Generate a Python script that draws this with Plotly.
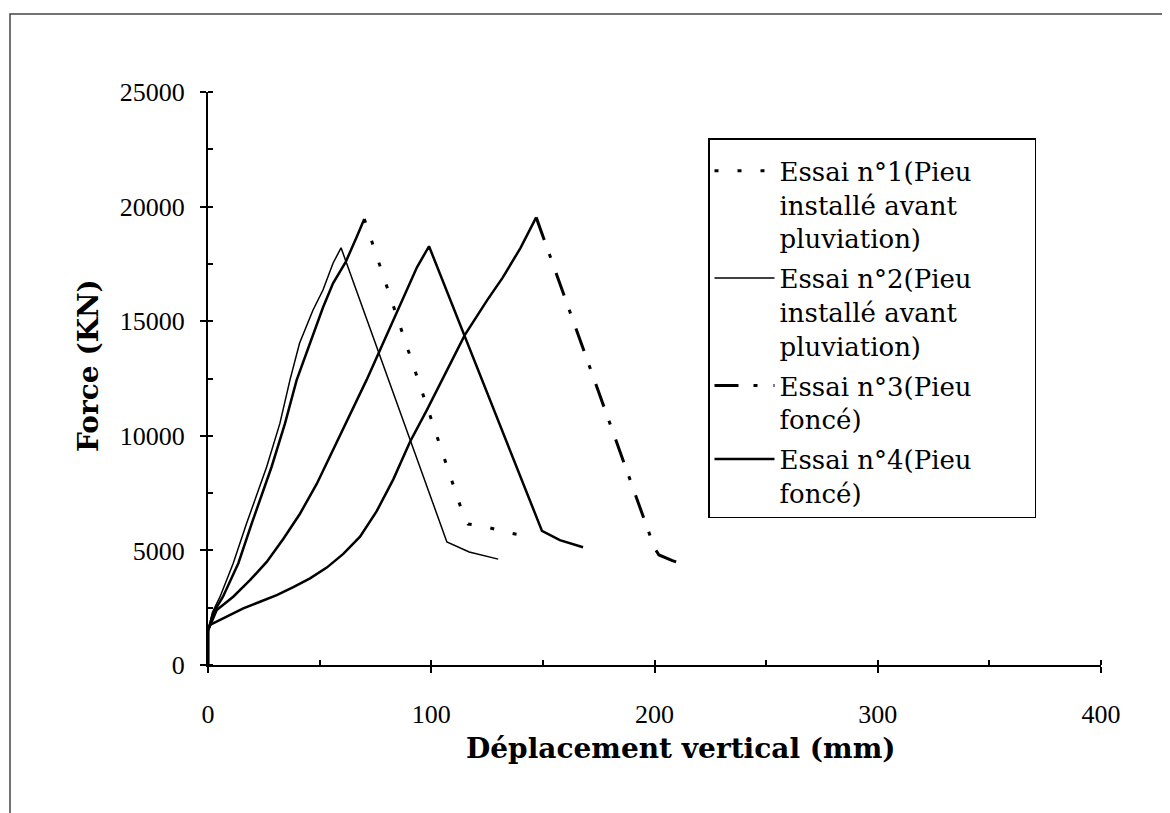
import plotly.graph_objects as go

# ---- data ----
# Essai n°1 : ascending branch then dotted unloading branch
e1_x = [0, 0, 2.5, 6.7, 13.6, 19.6, 28.5, 34.5, 39.7, 45.7, 51.5, 56, 61.7, 66.6, 70,
        114.5, 116.5, 125, 133, 140]
e1_y = [0, 1500, 2300, 2980, 4440, 6180, 8650, 10540, 12430, 14040, 15600, 16650, 17590, 18670, 19460,
        6500, 6150, 6020, 5800, 5670]
e1_peak = 14  # index of the peak (dash pattern starts here)

# Essai n°2 : thin solid
e2_x = [0, 0, 2, 5.4, 11.3, 17.3, 26.3, 32.2, 36.7, 41, 47, 51.5, 56, 59.6, 107, 117, 130]
e2_y = [0, 1500, 2300, 2980, 4440, 6180, 8650, 10540, 12430, 14040, 15480, 16360, 17530, 18200,
        5370, 4930, 4620]

# Essai n°3 : ascending branch then dash-dot unloading branch
e3_x = [0, 0, 0.9, 8.4, 15.8, 23.3, 30.8, 38.2, 45.7, 53.2, 60.6, 68.1, 75.5, 83, 90.5, 97.9, 104,
        115, 125, 132, 140, 147, 200, 202, 208, 214.5]
e3_y = [0, 1500, 1745, 2110, 2470, 2760, 3050, 3400, 3780, 4250, 4850, 5600, 6700, 8100, 9740, 11100,
        12290, 14390, 15910, 16900, 18200, 19530, 5100, 4800, 4550, 4360]
e3_peak = 21

# Essai n°4 : thick solid
e4_x = [0, 0, 3.9, 11.3, 18.8, 26.3, 33.7, 41.2, 48.7, 56.1, 63.6, 71.1, 77, 85, 93.6, 99,
        149.6, 157.6, 168]
e4_y = [0, 1500, 2400, 2980, 3700, 4500, 5500, 6600, 7900, 9400, 10900, 12450, 13730, 15500, 17350,
        18270, 5850, 5450, 5140]

PAD = "\u00a0" * 7  # right padding inside the legend box
names = [
    "Essai n°1(Pieu" + PAD + "<br>installé avant<br>pluviation)",
    "Essai n°2(Pieu<br>installé avant<br>pluviation)",
    "Essai n°3(Pieu<br>foncé)",
    "Essai n°4(Pieu<br>foncé)",
]

x_ticks = [0, 100, 200, 300, 400]
y_ticks = [0, 5000, 10000, 15000, 20000, 25000]
x_title = "Déplacement vertical (mm)"
y_title = "Force (KN)"

SERIF = "DejaVu Serif"
TICKFONT = "Liberation Serif"

fig = go.Figure()

# Essai 1
fig.add_trace(go.Scatter(x=e1_x[:e1_peak + 1], y=e1_y[:e1_peak + 1], mode="lines",
                         line=dict(color="black", width=2.5), legendgroup="e1",
                         showlegend=False, hoverinfo="skip"))
fig.add_trace(go.Scatter(x=e1_x[e1_peak:], y=e1_y[e1_peak:], mode="lines", name=names[0],
                         line=dict(color="black", width=3, dash="4px,19px"), legendgroup="e1"))
# Essai 2
fig.add_trace(go.Scatter(x=e2_x, y=e2_y, mode="lines", name=names[1],
                         line=dict(color="black", width=1.5), legendgroup="e2"))
# Essai 3
fig.add_trace(go.Scatter(x=e3_x[:e3_peak + 1], y=e3_y[:e3_peak + 1], mode="lines",
                         line=dict(color="black", width=2.5), legendgroup="e3",
                         showlegend=False, hoverinfo="skip"))
fig.add_trace(go.Scatter(x=e3_x[e3_peak:], y=e3_y[e3_peak:], mode="lines", name=names[2],
                         line=dict(color="black", width=3, dash="24px,15px,4px,16px"), legendgroup="e3"))
# Essai 4
fig.add_trace(go.Scatter(x=e4_x, y=e4_y, mode="lines", name=names[3],
                         line=dict(color="black", width=2.5), legendgroup="e4"))

# page has an 8px body margin: the figure is drawn 8px right/down of the window corner
OFF = 8
W, H = 1170 - OFF, 813 - OFF
L, T = 208 - OFF, 92 - OFF
R = W - (1101 - OFF)
B = H - (665 - OFF)
pw, ph = W - L - R, H - T - B


def px(xs):   # screenshot pixel -> paper x
    return (xs - 208) / pw


def py(ys):   # screenshot pixel -> paper y
    return (665 - ys) / ph


fig.update_layout(
    width=W, height=H,
    margin=dict(l=L, r=R, t=T, b=B),
    paper_bgcolor="white", plot_bgcolor="white",
    font=dict(family=SERIF, color="black"),
    showlegend=True,
    legend=dict(
        x=px(708), y=py(138), xanchor="left", yanchor="top",
        bordercolor="black", borderwidth=1.5, bgcolor="white",
        font=dict(family=SERIF, size=26, color="black"),
        title=dict(text=" ", font=dict(size=6)),
        itemwidth=60, valign="top", tracegroupgap=3,
    ),
    xaxis=dict(
        range=[0, 400], tickvals=x_ticks, ticktext=[str(v) for v in x_ticks],
        showgrid=False, zeroline=False,
        showline=True, linecolor="black", linewidth=2,
        ticks="outside", ticklen=6, tickwidth=2, tickcolor="black",
        minor=dict(ticks="inside", ticklen=5, tickwidth=1.5, tickcolor="black", dtick=50),
        tickfont=dict(family=TICKFONT, size=26, color="black"),
        ticklabelstandoff=19,
        automargin=False,
    ),
    yaxis=dict(
        range=[0, 25000], tickvals=y_ticks, ticktext=[str(v) for v in y_ticks],
        showgrid=False, zeroline=False,
        showline=True, linecolor="black", linewidth=2,
        ticks="outside", ticklen=6, tickwidth=2, tickcolor="black",
        minor=dict(ticks="inside", ticklen=5, tickwidth=1.5, tickcolor="black", dtick=2500),
        tickfont=dict(family=TICKFONT, size=26, color="black"),
        ticklabelstandoff=10,
        automargin=False,
    ),
)

# axis titles
fig.add_annotation(text="<b>" + x_title + "</b>", xref="paper", yref="paper",
                   x=px(681), y=py(748), xanchor="center", yanchor="middle", showarrow=False,
                   font=dict(family=SERIF, size=28, color="black"))
fig.add_annotation(text="<b>" + y_title + "</b>", xref="paper", yref="paper",
                   x=px(88), y=py(366), xanchor="center", yanchor="middle", showarrow=False,
                   textangle=-90, font=dict(family=SERIF, size=28, color="black"))

# outer frame of the figure (scanned page border)
fig.add_shape(type="rect", xref="paper", yref="paper",
              x0=px(10), x1=px(1190), y0=py(840), y1=py(14),
              line=dict(color="#444", width=1.5), layer="below")

fig.write_html("out.html")
